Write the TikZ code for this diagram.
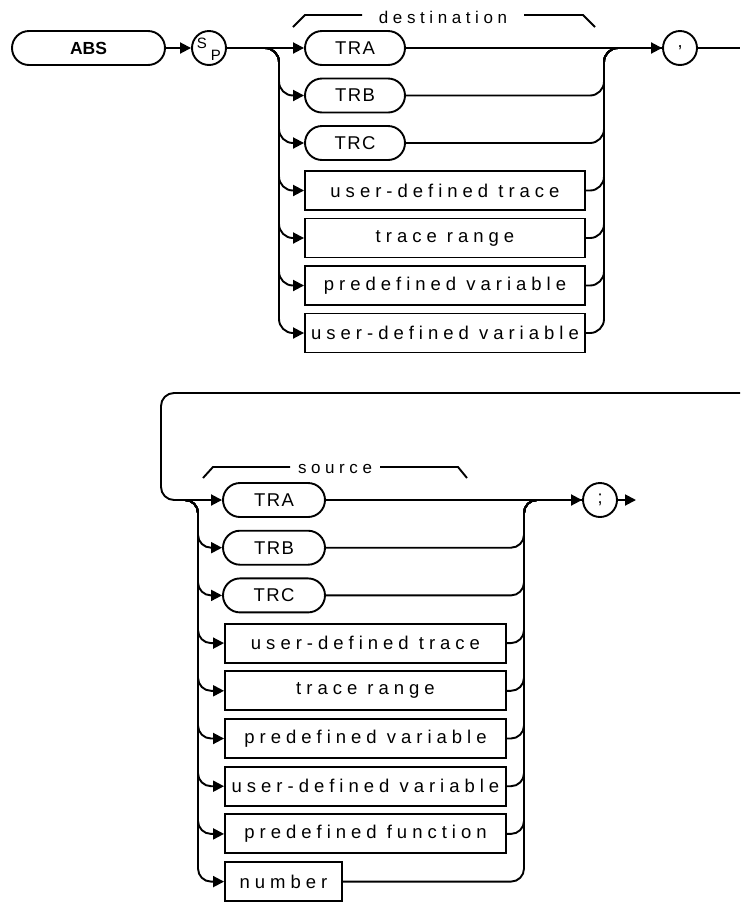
\documentclass[tikz,border=0pt]{standalone}
\usepackage{fontspec}
\setmainfont{Liberation Sans}
\newfontfamily\hpf[LetterSpace=27]{Liberation Sans}
\newfontfamily\hpt[LetterSpace=8]{Liberation Sans}
\usetikzlibrary{arrows.meta,shapes.misc}
\tikzset{
  ln/.style={line width=1.9pt},
  arr/.style={ln, -{Triangle[length=11pt,width=11pt]}},
  tbox/.style={draw, ln, rounded rectangle, minimum width=100pt, minimum height=34pt, inner sep=0pt, font=\hpt\fontsize{18.5}{20}\selectfont},
  rbox/.style={draw, ln, rectangle, minimum height=39pt, inner sep=0pt, font=\hpf\fontsize{18.5}{20}\selectfont},
  term/.style={draw, ln, circle, minimum size=34pt, inner sep=0pt, font=\fontsize{18}{20}\selectfont},
  lbl/.style={inner sep=0pt, font=\hpf\fontsize{17}{19}\selectfont},
}
\begin{document}
\begin{tikzpicture}[x=1pt,y=-1pt]
\useasboundingbox (0,0) rectangle (740,903);
% ---------- top ----------
\node[draw, ln, rounded rectangle, minimum width=153pt, minimum height=34pt, inner sep=0pt, font=\bfseries\fontsize{17.5}{19}\selectfont] (abs) at (88.5,48) {ABS};
\node[term] (sp) at (209,48) {};
\node[inner sep=0pt, font=\hpt\fontsize{15}{17}\selectfont] (spS) at (202,43) {S};
\node[inner sep=0pt, font=\hpt\fontsize{15}{17}\selectfont] (spP) at (216,55) {P};
\draw[arr] (abs.east) -- (sp.west);

\node[tbox] (tra) at (355,48) {TRA};
\node[tbox] (trb) at (355,95.5) {TRB};
\node[tbox] (trc) at (355,143) {TRC};
\node[rbox, minimum width=280pt] (udt) at (445,190.5) {user-defined trace};
\node[rbox, minimum width=280pt] (trr) at (445,238) {trace range};
\node[rbox, minimum width=280pt] (pdv) at (445,285.5) {predefined variable};
\node[rbox, minimum width=280pt] (udv) at (445,333) {user-defined variable};
\node[term] (comma) at (680,48) {,};

\coordinate (tL) at (279,0);
\coordinate (tR) at (604,0);
\coordinate (cexit) at (740,48);

\draw[arr] (sp.east) -- (tra.west);
\draw[arr] (tra.east) -- (comma.west);
\draw[ln] (comma.east) -- (cexit);
\foreach \n in {trb,trc,udt,trr,pdv,udv}{
  \draw[arr, rounded corners=14pt] (sp.east) -| (tL |- \n.west) -- (\n.west);
  \draw[ln, rounded corners=14pt] (\n.east) -| (tR |- tra.east) -- (comma.west);
}
% destination bracket
\draw[ln] (293,27) -- (305,15) -- (362,15);
\draw[ln] (524,15) -- (583,15) -- (595,27);
\node[lbl] (dest) at (443,17) {destination};

% ---------- bottom ----------
\coordinate (loopR) at (740,393);
\coordinate (loopL) at (161,393);
\coordinate (lsplit) at (178,500);
\coordinate (bL) at (198,0);
\coordinate (bR) at (524,0);
\coordinate (sexit) at (636,500);

\node[tbox, minimum width=102pt] (stra) at (274,500) {TRA};
\node[tbox, minimum width=102pt] (strb) at (274,547.7) {TRB};
\node[tbox, minimum width=102pt] (strc) at (274,595.4) {TRC};
\node[rbox, minimum width=281pt] (sudt) at (365.5,643.1) {user-defined trace};
\node[rbox, minimum width=281pt] (strr) at (365.5,690.8) {trace range};
\node[rbox, minimum width=281pt] (spdv) at (365.5,738.5) {predefined variable};
\node[rbox, minimum width=281pt] (sudv) at (365.5,786.2) {user-defined variable};
\node[rbox, minimum width=281pt] (spdf) at (365.5,833.9) {predefined function};
\node[rbox, minimum width=117pt] (snum) at (283.5,881.6) {number};
\node[term] (semi) at (600,500) {;};

\draw[arr, rounded corners=13pt] (loopR) -- (loopL) |- (stra.west);
\draw[arr] (stra.east) -- (semi.west);
\draw[arr] (semi.east) -- (sexit);
\foreach \n in {strb,strc,sudt,strr,spdv,sudv,spdf,snum}{
  \draw[arr, rounded corners=13pt] (lsplit) -| (bL |- \n.west) -- (\n.west);
  \draw[ln, rounded corners=13pt] (\n.east) -| (bR |- stra.east) -- (semi.west);
}
% source bracket
\draw[ln] (203,478) -- (213,467) -- (290,467);
\draw[ln] (380,467) -- (458,467) -- (467,478);
\node[lbl] (src) at (335,469) {source};
\end{tikzpicture}
\end{document}
